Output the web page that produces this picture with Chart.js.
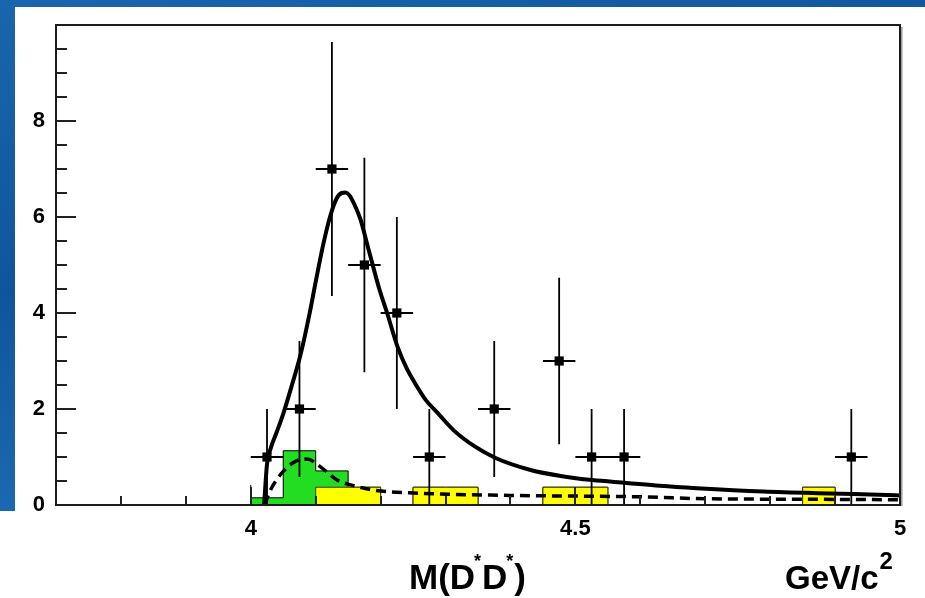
<!DOCTYPE html>
<html>
<head>
<meta charset="utf-8">
<title>M(D*D*)</title>
<script src="https://cdn.jsdelivr.net/npm/chart.js@4.4.1/dist/chart.umd.min.js"></script>
<style>
  html, body { margin: 0; padding: 0; width: 925px; height: 598px; overflow: hidden; }
  body {
    position: relative;
    background: linear-gradient(165deg, #1966ae 0%, #0f559c 35%, #1c68b0 60%, #0d4d90 100%);
  }
  .panel { position: absolute; background: #ffffff; }
  #panelMain { left: 15px; top: 7px; right: 0; bottom: 0; }
  #panelFoot { left: 0; top: 511px; width: 15px; bottom: 0; }
  canvas { position: absolute; left: 0; top: 0; }
</style>
</head>
<body>
<div class="panel" id="panelMain"></div>
<div class="panel" id="panelFoot"></div>
<canvas id="massChart" width="925" height="598"></canvas>
<script>
// Observed D*D* invariant mass, 50 MeV/c^2 bins
const binCenters = [4.025, 4.075, 4.125, 4.175, 4.225, 4.275, 4.375, 4.475, 4.525, 4.575, 4.925];
const counts     = [1, 2, 7, 5, 4, 1, 2, 3, 1, 1, 1];
const binHalfWidth = 0.025;

// Full fit (signal + background)
const fitMass  = [4.0205, 4.025, 4.030, 4.040, 4.050, 4.063, 4.077, 4.090, 4.100, 4.112, 4.122, 4.132, 4.140, 4.146, 4.152, 4.160, 4.169, 4.178, 4.187, 4.198, 4.210, 4.226, 4.240, 4.256, 4.270, 4.287, 4.313, 4.345, 4.377, 4.431, 4.480, 4.526, 4.579, 4.630, 4.687, 4.790, 4.892, 4.980, 5.000];
const fitYield = [0.0, 0.85, 1.15, 1.52, 1.90, 2.48, 3.15, 3.95, 4.65, 5.45, 6.00, 6.38, 6.50, 6.51, 6.45, 6.25, 5.95, 5.50, 5.04, 4.50, 4.00, 3.30, 2.85, 2.47, 2.18, 1.93, 1.55, 1.22, 0.98, 0.73, 0.60, 0.52, 0.46, 0.40, 0.35, 0.28, 0.24, 0.21, 0.20];

// Background component of the fit
const bkgMass  = [4.0215, 4.030, 4.038, 4.050, 4.064, 4.080, 4.090, 4.103, 4.118, 4.133, 4.154, 4.190, 4.250, 4.400, 4.600, 4.700, 4.850, 5.000];
const bkgYield = [0.0, 0.30, 0.49, 0.70, 0.87, 0.96, 0.95, 0.84, 0.68, 0.52, 0.42, 0.31, 0.25, 0.20, 0.17, 0.13, 0.12, 0.11];

// Estimated background histograms, 50 MeV/c^2 bins starting at these lower edges
const histBinLow = [4.00, 4.05, 4.10, 4.15, 4.20, 4.25, 4.30, 4.35, 4.40, 4.45, 4.50, 4.55, 4.60, 4.65, 4.70, 4.75, 4.80, 4.85, 4.90, 4.95];
const yellowHist = [0, 0, 0.37, 0.37, 0, 0.37, 0.37, 0, 0, 0.37, 0.37, 0, 0, 0, 0, 0, 0, 0.37, 0, 0];
const greenHist  = [0.15, 1.13, 0.34, 0, 0, 0, 0, 0, 0, 0, 0, 0, 0, 0, 0, 0, 0, 0, 0, 0];
const histBinWidth = 0.05;

// Thin markers at 100 MeV/c^2 bin edges
const edgeMass   = [4.00, 4.30, 4.40, 4.50, 4.60, 4.70, 4.80];
const edgeHeight = [0.42, 0.21, 0.20, 0.19, 0.17, 0.14, 0.13];

// Axis labelling
const xLabelValues = [4, 4.5, 5];
const yLabelValues = [0, 2, 4, 6, 8];
const xAxisTitle = ['M(D', '*', 'D', '*', ')'];
const unitTitle  = ['GeV/c', '2'];

// ---------- build datasets ----------
function stepHist(values) {
  const pts = [{ x: histBinLow[0], y: 0 }];
  values.forEach((v, i) => pts.push({ x: histBinLow[i], y: v }));
  const lastHigh = histBinLow[histBinLow.length - 1] + histBinWidth;
  pts.push({ x: lastHigh, y: 0 });
  return pts;
}
const stackedGreen = greenHist.map((g, i) => g + yellowHist[i]);

const fitPoints = fitMass.map((m, i) => ({ x: m, y: fitYield[i] }));
const bkgPoints = bkgMass.map((m, i) => ({ x: m, y: bkgYield[i] }));
const dataPoints = binCenters.map((c, i) => ({ x: c, y: counts[i] }));

const errorSegments = [];
binCenters.forEach((c, i) => {
  const e = Math.sqrt(counts[i]);
  errorSegments.push({ x: c, y: counts[i] - e }, { x: c, y: counts[i] + e }, { x: c, y: null });
  errorSegments.push({ x: c - binHalfWidth, y: counts[i] }, { x: c + binHalfWidth, y: counts[i] }, { x: c, y: null });
});

const edgeSegments = [];
edgeMass.forEach((m, i) => {
  edgeSegments.push({ x: m, y: 0 }, { x: m, y: edgeHeight[i] }, { x: m, y: null });
});

const FONT = '"Liberation Sans", Arial, Helvetica, sans-serif';
const near = (a, b) => Math.abs(a - b) < 1e-6;

// ---------- frame, inward ticks and axis titles ----------
const rootStylePlugin = {
  id: 'rootStyle',
  afterDraw(chart) {
    const { ctx, chartArea: a, scales } = chart;
    const xs = scales.x, ys = scales.y;
    ctx.save();
    ctx.strokeStyle = '#222';
    ctx.lineWidth = 2;
    ctx.lineCap = 'butt';
    // y ticks every 0.5, long at labelled values
    ys.ticks.forEach(t => {
      if (t.value >= ys.max - 1e-6) return;
      const py = Math.round(ys.getPixelForValue(t.value));
      const len = yLabelValues.some(v => near(v, t.value)) ? 20 : 11;
      ctx.beginPath(); ctx.moveTo(a.left, py); ctx.lineTo(a.left + len, py); ctx.stroke();
    });
    // x ticks every 0.1, long at labelled values
    xs.ticks.forEach(t => {
      const px = Math.round(xs.getPixelForValue(t.value));
      const len = xLabelValues.some(v => near(v, t.value)) ? 18 : 9;
      ctx.beginPath(); ctx.moveTo(px, a.bottom); ctx.lineTo(px, a.bottom - len); ctx.stroke();
    });
    // frame
    ctx.strokeStyle = '#1c1c1c';
    ctx.strokeRect(a.left, a.top, a.right - a.left, a.bottom - a.top);
    ctx.strokeStyle = 'rgba(90,90,90,0.6)';
    ctx.lineWidth = 1.5;
    ctx.beginPath(); ctx.moveTo(a.right + 1.8, a.top + 2); ctx.lineTo(a.right + 1.8, a.bottom + 1); ctx.stroke();

    // axis titles
    ctx.fillStyle = '#000';
    ctx.textBaseline = 'alphabetic';
    ctx.textAlign = 'left';
    const big = 'bold 35px ' + FONT, small = 'bold 18px ' + FONT;
    let x = 409; const base = 589;
    xAxisTitle.forEach((s, i) => {
      const sup = (i === 1 || i === 3);
      ctx.font = sup ? small : big;
      ctx.fillText(s, x - (sup ? 1 : 0), sup ? base - 22 : base);
      x += ctx.measureText(s).width + (sup ? 0 : 0);
    });
    ctx.font = 'bold 33px ' + FONT;
    let ux = 785;
    ctx.fillText(unitTitle[0], ux, base);
    ux += ctx.measureText(unitTitle[0]).width + 1;
    ctx.font = 'bold 24px ' + FONT;
    ctx.fillText(unitTitle[1], ux, base - 20);
    ctx.restore();
  }
};

new Chart(document.getElementById('massChart'), {
  type: 'line',
  plugins: [rootStylePlugin],
  data: {
    datasets: [
      {
        label: 'green', data: stepHist(stackedGreen), stepped: true,
        borderColor: '#000', borderWidth: 1, backgroundColor: '#22dd22',
        fill: 'origin', pointRadius: 0, order: 9
      },
      {
        label: 'yellow', data: stepHist(yellowHist), stepped: true,
        borderColor: '#3a3a00', borderWidth: 1, backgroundColor: '#ffff00',
        fill: 'origin', pointRadius: 0, order: 8
      },
      {
        label: 'edges', data: edgeSegments, spanGaps: false,
        borderColor: '#000', borderWidth: 1, pointRadius: 0, fill: false, order: 7
      },
      {
        label: 'background', data: bkgPoints, cubicInterpolationMode: 'monotone',
        borderColor: '#000', borderWidth: 3.5, borderDash: [10, 6], pointRadius: 0, fill: false, order: 6
      },
      {
        label: 'errors', data: errorSegments, spanGaps: false,
        borderColor: '#000', borderWidth: 1.8, pointRadius: 0, fill: false, order: 4
      },
      {
        label: 'data', data: dataPoints, showLine: false,
        pointStyle: 'rect', pointRadius: 6.5, pointBackgroundColor: '#000',
        pointBorderColor: '#000', pointBorderWidth: 0, order: 3
      },
      {
        label: 'fit', data: fitPoints, cubicInterpolationMode: 'monotone',
        borderColor: '#000', borderWidth: 4, pointRadius: 0, fill: false, order: 2
      }
    ]
  },
  options: {
    responsive: false,
    animation: false,
    devicePixelRatio: 1,
    events: [],
    layout: { padding: { left: 0, top: 25, right: 25, bottom: 0 } },
    plugins: { legend: { display: false }, tooltip: { enabled: false } },
    scales: {
      x: {
        type: 'linear', min: 3.7, max: 5.0,
        grid: { display: false, drawTicks: false },
        border: { display: false },
        ticks: {
          stepSize: 0.1, autoSkip: false, maxRotation: 0, padding: 11,
          color: '#000', font: { family: FONT, size: 22, weight: 'bold' },
          callback: v => (xLabelValues.some(l => near(l, v)) ? String(+v.toFixed(1)) : '')
        },
        afterFit: s => { s.height = 93; }
      },
      y: {
        type: 'linear', min: 0, max: 10,
        grid: { display: false, drawTicks: false },
        border: { display: false },
        ticks: {
          stepSize: 0.5, autoSkip: false, padding: 11,
          color: '#000', font: { family: FONT, size: 22, weight: 'bold' },
          callback: v => (yLabelValues.some(l => near(l, v)) ? String(v) : '')
        },
        afterFit: s => { s.width = 56; }
      }
    }
  }
});
</script>
</body>
</html>
